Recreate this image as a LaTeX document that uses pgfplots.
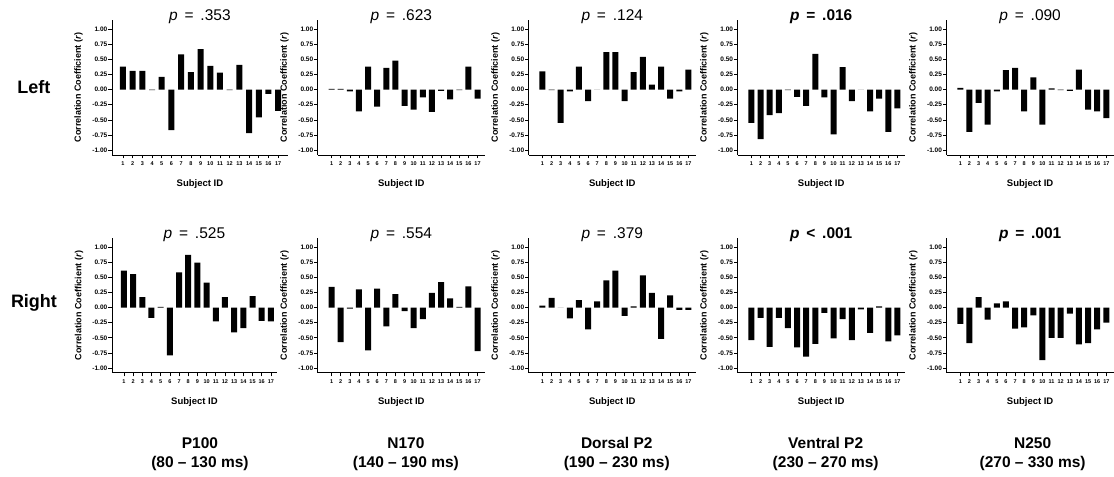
\documentclass[border=0pt]{standalone}
\usepackage{fontspec}
\setmainfont{Liberation Sans}
\usepackage{pgfplots}
\pgfplotsset{compat=1.18}

\pgfplotsset{
  panel/.style={
    scale only axis, width=167pt, height=135pt,
    anchor=south west,
    xmin=-0.5, xmax=17.8, ymin=-1.08, ymax=1.15,
    axis x line=bottom, axis y line=left,
    axis line style={-, line width=0.8pt},
    ybar, bar width=6pt,
    xtick={1,...,17},
    ytick={-1,-0.75,-0.5,-0.25,0,0.25,0.5,0.75,1},
    tick align=outside, major tick length=3.5pt,
    tick style={black, line width=0.6pt},
    /pgf/number format/assume math mode=true,
    yticklabel style={font=\fontsize{6.5}{7}\selectfont\bfseries, inner sep=1pt,
      /pgf/number format/.cd, fixed, fixed zerofill, precision=2},
    xticklabel style={font=\fontsize{5.5}{6}\selectfont\bfseries, inner sep=1pt, yshift=-2pt},
    title style={font=\fontsize{15.5}{16}\selectfont, at={(axis description cs:0.5,1)}, anchor=center, yshift=-3pt},
    xlabel={Subject ID},
    xlabel style={font=\fontsize{9.5}{10}\selectfont\bfseries, at={(axis description cs:0.5,-0.215)}, anchor=center},
    ylabel={Correlation Coefficient (\textit{r})},
    ylabel style={font=\fontsize{9}{10}\selectfont\bfseries, at={(axis description cs:-0.2,0.5)}, anchor=center},
  },
  bars/.style={fill=black, draw=none},
}
\newcommand{\ptitle}[2]{\textit{p}\hspace{2.5pt} #1\hspace{2.5pt} #2}

\begin{document}
\begin{tikzpicture}
\path (0,0) rectangle (1114pt,477pt);

% ---- Left hemisphere (top row)
\begin{axis}[panel, at={(112pt,322pt)}, width=176pt, xmin=-0.13, xmax=18,
  ylabel style={at={(axis description cs:-0.19,0.5)}}, title={\ptitle{=}{.353}}]
\addplot[bars] coordinates {(1,0.38) (2,0.31) (3,0.31) (4,-0.01) (5,0.21) (6,-0.67) (7,0.58) (8,0.29) (9,0.67) (10,0.39) (11,0.28) (12,-0.01) (13,0.41) (14,-0.72) (15,-0.46) (16,-0.07) (17,-0.35)};
\end{axis}
\begin{axis}[panel, at={(318pt,322pt)}, title={\ptitle{=}{.623}}]
\addplot[bars] coordinates {(1,0.01) (2,0.01) (3,-0.03) (4,-0.36) (5,0.38) (6,-0.28) (7,0.36) (8,0.48) (9,-0.27) (10,-0.33) (11,-0.13) (12,-0.37) (13,-0.02) (14,-0.16) (15,-0.01) (16,0.38) (17,-0.15)};
\end{axis}
\begin{axis}[panel, at={(529pt,322pt)}, title={\ptitle{=}{.124}}]
\addplot[bars] coordinates {(1,0.30) (2,-0.01) (3,-0.55) (4,-0.03) (5,0.38) (6,-0.19) (7,0) (8,0.62) (9,0.62) (10,-0.19) (11,0.29) (12,0.54) (13,0.08) (14,0.38) (15,-0.15) (16,-0.03) (17,0.33)};
\end{axis}
\begin{axis}[panel, at={(738pt,322pt)}, title={\bfseries\ptitle{=}{.016}}]
\addplot[bars] coordinates {(1,-0.55) (2,-0.82) (3,-0.42) (4,-0.39) (5,-0.01) (6,-0.12) (7,-0.27) (8,0.59) (9,-0.13) (10,-0.74) (11,0.37) (12,-0.19) (13,0) (14,-0.36) (15,-0.15) (16,-0.70) (17,-0.31)};
\end{axis}
\begin{axis}[panel, at={(947pt,322pt)}, title={\ptitle{=}{.090}}]
\addplot[bars] coordinates {(1,0.03) (2,-0.70) (3,-0.22) (4,-0.58) (5,-0.03) (6,0.32) (7,0.36) (8,-0.36) (9,0.20) (10,-0.58) (11,0.02) (12,-0.01) (13,-0.02) (14,0.33) (15,-0.33) (16,-0.36) (17,-0.47)};
\end{axis}

% ---- Right hemisphere (bottom row)
\begin{axis}[panel, at={(112pt,104pt)}, width=165pt, xmin=-0.3, xmax=17.65, title={\ptitle{=}{.525}}]
\addplot[bars] coordinates {(1,0.61) (2,0.55) (3,0.17) (4,-0.17) (5,0.01) (6,-0.79) (7,0.58) (8,0.87) (9,0.74) (10,0.41) (11,-0.23) (12,0.17) (13,-0.41) (14,-0.34) (15,0.19) (16,-0.22) (17,-0.23)};
\end{axis}
\begin{axis}[panel, at={(318pt,104pt)}, title={\ptitle{=}{.554}}]
\addplot[bars] coordinates {(1,0.34) (2,-0.57) (3,-0.02) (4,0.30) (5,-0.71) (6,0.31) (7,-0.31) (8,0.22) (9,-0.06) (10,-0.34) (11,-0.19) (12,0.24) (13,0.42) (14,0.15) (15,0.01) (16,0.35) (17,-0.72)};
\end{axis}
\begin{axis}[panel, at={(529pt,104pt)}, title={\ptitle{=}{.379}}]
\addplot[bars] coordinates {(1,0.03) (2,0.16) (3,0) (4,-0.18) (5,0.12) (6,-0.36) (7,0.10) (8,0.45) (9,0.61) (10,-0.14) (11,0.02) (12,0.53) (13,0.24) (14,-0.52) (15,0.20) (16,-0.04) (17,-0.04)};
\end{axis}
\begin{axis}[panel, at={(738pt,104pt)}, title={\bfseries\ptitle{<}{.001}}]
\addplot[bars] coordinates {(1,-0.54) (2,-0.17) (3,-0.65) (4,-0.17) (5,-0.34) (6,-0.66) (7,-0.81) (8,-0.60) (9,-0.09) (10,-0.51) (11,-0.19) (12,-0.54) (13,-0.03) (14,-0.42) (15,0.02) (16,-0.56) (17,-0.46)};
\end{axis}
\begin{axis}[panel, at={(947pt,104pt)}, title={\bfseries\ptitle{=}{.001}}]
\addplot[bars] coordinates {(1,-0.27) (2,-0.59) (3,0.17) (4,-0.20) (5,0.07) (6,0.10) (7,-0.35) (8,-0.33) (9,-0.13) (10,-0.87) (11,-0.50) (12,-0.50) (13,-0.10) (14,-0.61) (15,-0.59) (16,-0.36) (17,-0.25)};
\end{axis}

% ---- row and column labels
\node[font=\fontsize{18}{19}\selectfont\bfseries] at (34pt,390pt) {Left};
\node[font=\fontsize{18}{19}\selectfont\bfseries] at (34pt,174pt) {Right};
\foreach \cx/\ln/\rn in {200/P100/(80 – 130 ms), 406/N170/(140 – 190 ms), 617/Dorsal P2/(190 – 230 ms), 826/Ventral P2/(230 – 270 ms), 1033/N250/(270 – 330 ms)}{
  \node[font=\fontsize{15.5}{17}\selectfont\bfseries] at (\cx pt,34pt) {\ln};
  \node[font=\fontsize{15.5}{17}\selectfont\bfseries] at (\cx pt,13pt) {\rn};
}
\end{tikzpicture}
\end{document}
